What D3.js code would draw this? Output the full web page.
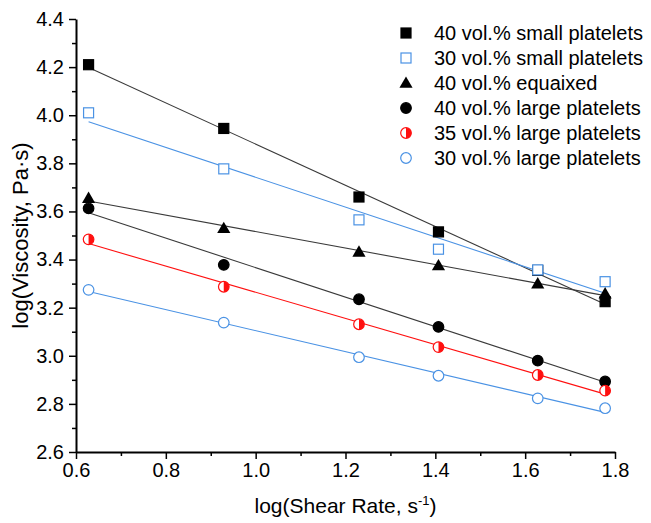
<!DOCTYPE html>
<html>
<head>
<meta charset="utf-8">
<script src="https://cdn.jsdelivr.net/npm/d3@7"></script>
<style>
  body { margin: 0; background: #fff; }
  text { font-family: "Liberation Sans", Arial, sans-serif; fill: #000; }
</style>
</head>
<body>
<div id="chart"></div>
<script>
// log(shear rate) values shared by every series
var shearLog = [0.628, 0.929, 1.230, 1.407, 1.628, 1.778];

var seriesNames = [
    "40 vol.% small platelets",
    "30 vol.% small platelets",
    "40 vol.% equaixed",
    "40 vol.% large platelets",
    "35 vol.% large platelets",
    "30 vol.% large platelets"
];
var small40 = [4.21, 3.945, 3.66, 3.515, 3.355, 3.225];
var small30 = [4.01, 3.777, 3.565, 3.443, 3.357, 3.308];
var equiaxed40 = [3.655, 3.53, 3.432, 3.375, 3.30, 3.258];
var large40 = [3.613, 3.378, 3.235, 3.12, 2.98, 2.893];
var large35 = [3.484, 3.287, 3.131, 3.036, 2.92, 2.855];
var large30 = [3.274, 3.138, 2.994, 2.917, 2.823, 2.782];

var xTicks = [0.6, 0.8, 1.0, 1.2, 1.4, 1.6, 1.8];
var yTicks = [2.6, 2.8, 3.0, 3.2, 3.4, 3.6, 3.8, 4.0, 4.2, 4.4];

var blue = "#4a92e4", red = "#ff1010";

var series = [
    { name: seriesNames[0], values: small40, shape: "square", fill: "#000", stroke: "#000", line: "#3a3a3a" },
    { name: seriesNames[1], values: small30, shape: "square", fill: "#fff", stroke: blue, line: blue },
    { name: seriesNames[2], values: equiaxed40, shape: "triangle", fill: "#000", stroke: "#000", line: "#3a3a3a" },
    { name: seriesNames[3], values: large40, shape: "circle", fill: "#000", stroke: "#000", line: "#3a3a3a" },
    { name: seriesNames[4], values: large35, shape: "half", fill: red, stroke: red, line: red },
    { name: seriesNames[5], values: large30, shape: "circle", fill: "#fff", stroke: blue, line: blue }
];

var width = 651, height = 523;
var margin = { top: 19, right: 36, bottom: 71, left: 76 };

var svg = d3.select("#chart").append("svg")
    .attr("width", width)
    .attr("height", height);

var x = d3.scaleLinear().domain([0.6, 1.8]).range([margin.left, width - margin.right]);
var y = d3.scaleLinear().domain([2.6, 4.4]).range([height - margin.bottom, margin.top]);

// minor ticks first
var xMinor = d3.range(0.7, 1.8, 0.2);
var yMinor = d3.range(2.7, 4.4, 0.2);

svg.append("g")
    .attr("transform", "translate(0," + y(2.6) + ")")
    .call(d3.axisBottom(x).tickValues(xMinor).tickSize(4).tickFormat(""))
    .call(function(g) { g.select(".domain").remove(); })
    .selectAll("line").attr("stroke-width", 1.5);

svg.append("g")
    .attr("transform", "translate(" + x(0.6) + ",0)")
    .call(d3.axisLeft(y).tickValues(yMinor).tickSize(4).tickFormat(""))
    .call(function(g) { g.select(".domain").remove(); })
    .selectAll("line").attr("stroke-width", 1.5);

var xAxis = svg.append("g")
    .attr("transform", "translate(0," + y(2.6) + ")")
    .call(d3.axisBottom(x).tickValues(xTicks).tickSize(7).tickSizeOuter(0).tickPadding(4).tickFormat(d3.format(".1f")));

var yAxis = svg.append("g")
    .attr("transform", "translate(" + x(0.6) + ",0)")
    .call(d3.axisLeft(y).tickValues(yTicks).tickSize(7).tickSizeOuter(0).tickPadding(5).tickFormat(d3.format(".1f")));

[xAxis, yAxis].forEach(function(ax) {
    ax.select(".domain").attr("stroke-width", 2);
    ax.selectAll(".tick line").attr("stroke-width", 1.5);
    ax.selectAll(".tick text")
        .attr("font-size", 20)
        .attr("font-family", "Liberation Sans, Arial, sans-serif")
        .attr("fill", "#000");
});

// axis titles
svg.append("text")
    .attr("x", (x(0.6) + x(1.8)) / 2)
    .attr("y", 513)
    .attr("text-anchor", "middle")
    .attr("font-size", 21)
    .html('log(Shear Rate, s<tspan dy="-8" font-size="13">-1</tspan><tspan dy="8">)</tspan>');

svg.append("text")
    .attr("transform", "translate(28," + ((y(2.6) + y(4.4)) / 2) + ") rotate(-90)")
    .attr("text-anchor", "middle")
    .attr("font-size", 22)
    .text("log(Viscosity, Pa\u00b7s)");

// least squares fit for each series
function fit(xs, ys) {
    var mx = d3.mean(xs), my = d3.mean(ys);
    var sxy = d3.sum(xs, function(v, i) { return (v - mx) * (ys[i] - my); });
    var sxx = d3.sum(xs, function(v) { return (v - mx) * (v - mx); });
    var b = sxy / sxx;
    return { a: my - b * mx, b: b };
}

var lines = svg.append("g");
series.forEach(function(s) {
    var f = fit(shearLog, s.values);
    var x0 = shearLog[0], x1 = shearLog[shearLog.length - 1];
    lines.append("line")
        .attr("x1", x(x0)).attr("y1", y(f.a + f.b * x0))
        .attr("x2", x(x1)).attr("y2", y(f.a + f.b * x1))
        .attr("stroke", s.line)
        .attr("stroke-width", 1.1);
});

function drawMarker(g, s, cx, cy) {
    if (s.shape == "square") {
        g.append("rect")
            .attr("x", cx - 5).attr("y", cy - 5)
            .attr("width", 10).attr("height", 10)
            .attr("fill", s.fill).attr("stroke", s.stroke).attr("stroke-width", 1.2);
    } else if (s.shape == "triangle") {
        g.append("path")
            .attr("d", d3.symbol().type(d3.symbolTriangle).size(75)())
            .attr("transform", "translate(" + cx + "," + (cy + 1) + ")")
            .attr("fill", s.fill);
    } else if (s.shape == "circle") {
        g.append("circle")
            .attr("cx", cx).attr("cy", cy).attr("r", 5.3)
            .attr("fill", s.fill).attr("stroke", s.stroke).attr("stroke-width", 1.2);
    } else {
        g.append("circle")
            .attr("cx", cx).attr("cy", cy).attr("r", 5.3)
            .attr("fill", "#fff").attr("stroke", s.stroke).attr("stroke-width", 1.2);
        g.append("path")
            .attr("d", "M" + cx + "," + (cy - 5.3) + " A5.3,5.3 0 0 1 " + cx + "," + (cy + 5.3) + " Z")
            .attr("fill", s.fill);
    }
}

var marks = svg.append("g");
series.forEach(function(s) {
    s.values.forEach(function(v, i) {
        drawMarker(marks, s, x(shearLog[i]), y(v));
    });
});

// legend
var legend = svg.append("g");
series.forEach(function(s, i) {
    var ly = 33 + i * 25;
    drawMarker(legend, s, 406, ly);
    legend.append("text")
        .attr("x", 434)
        .attr("y", ly + 7)
        .attr("font-size", 20)
        .text(s.name);
});
</script>
</body>
</html>
